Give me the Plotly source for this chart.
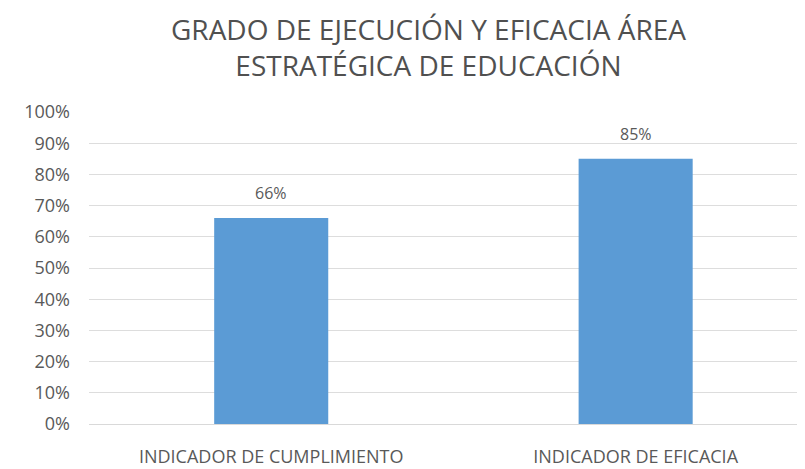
import plotly.graph_objects as go

categories = ["INDICADOR DE CUMPLIMIENTO", "INDICADOR DE EFICACIA"]
values = [0.66, 0.85]
labels = ["66%", "85%"]
tick_vals = [i / 10 for i in range(11)]
tick_text = [f"{i*10}%" for i in range(11)]
title_text = "GRADO DE EJECUCIÓN Y EFICACIA ÁREA<br>ESTRATÉGICA DE EDUCACIÓN"

GRAY = "#595959"

fig = go.Figure(go.Bar(
    x=categories, y=values, width=0.313,
    marker=dict(color="#5B9BD5", line=dict(width=0)),
    hoverinfo="skip",
))

annotations = [
    dict(x=c, y=v, text=t, xref="x", yref="y", showarrow=False,
         yanchor="bottom", yshift=12,
         font=dict(family="Open Sans", size=16, color=GRAY))
    for c, v, t in zip(categories, values, labels)
]
annotations.append(dict(
    x=0.477, y=1.332, xref="paper", yref="paper", text=title_text,
    showarrow=False, xanchor="center", yanchor="top",
    font=dict(family="Open Sans", size=28, color="#505050"),
))

fig.update_layout(
    width=797, height=461,
    margin=dict(l=81, r=5, t=104, b=45),
    paper_bgcolor="white", plot_bgcolor="white",
    font=dict(family="Open Sans", color=GRAY),
    showlegend=False,
    annotations=annotations,
)
fig.update_xaxes(
    range=[-0.5, 1.451], showgrid=False, showline=False, zeroline=False,
    tickfont=dict(size=18, color=GRAY), ticks="", ticklabelstandoff=20,
    automargin=False,
)
fig.update_yaxes(
    range=[0, 1.0], tickvals=tick_vals, ticktext=tick_text,
    showgrid=True, gridcolor="#DDDDDD", gridwidth=1,
    zeroline=True, zerolinecolor="#D9D9D9", zerolinewidth=1,
    tickfont=dict(size=18, color=GRAY), ticks="", ticklabelstandoff=18,
    automargin=False,
)
fig.write_html("out.html")
